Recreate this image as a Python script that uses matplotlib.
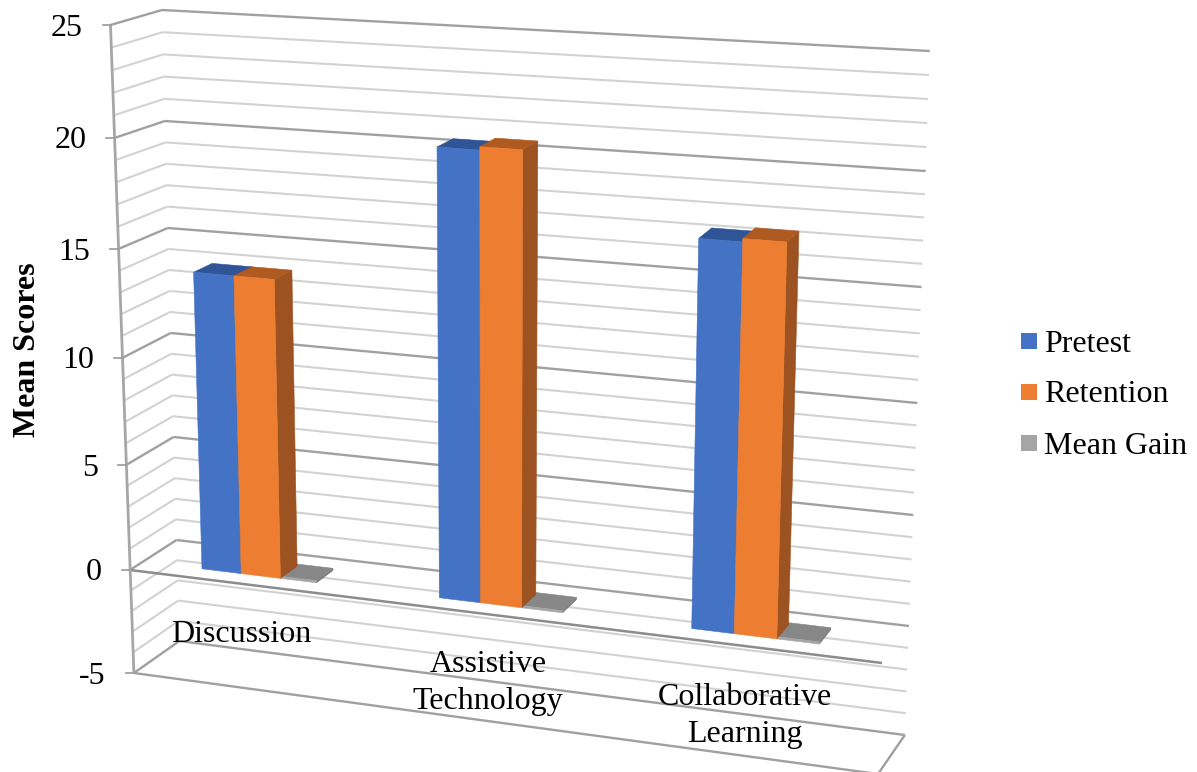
import numpy as np
import matplotlib
matplotlib.use('Agg')
import matplotlib.pyplot as plt
from matplotlib.patches import Polygon, Rectangle

plt.rcParams['font.family'] = ['Liberation Serif', 'DejaVu Serif']

# chart values
categories = ['Discussion', 'Assistive\nTechnology', 'Collaborative\nLearning']
series = ['Pretest', 'Retention', 'Mean Gain']
pretest = [13.9, 20.4, 17.3]
retention = [13.9, 20.55, 17.45]
mean_gain = [0.1, 0.1, 0.1]
y_ticks = [-5, 0, 5, 10, 15, 20, 25]

# box edges of the fake 3d chart, pixel position at each major value
edge_v = [-5, 0, 5, 10, 15, 20, 25]
front_left_y = [673, 570, 465, 358, 249, 138, 25]
back_left_y = [641, 540, 437, 333, 228, 121, 10]
back_right_y = [735, 626, 515, 403, 287, 171, 51]


def project(u, d, v):
    # u along the categories, d into the depth, v the value on the y axis
    fl_x = 130 - 0.78 * v
    bl_x = 176.5 - 0.58 * v
    fr_x = 882 + 0.8 * v
    br_x = 909 + 0.83 * v
    fl_y = np.interp(v, edge_v, front_left_y)
    bl_y = np.interp(v, edge_v, back_left_y)
    br_y = np.interp(v, edge_v, back_right_y)
    fr_y = fl_y + 93 - 1.6 * v
    left_x = fl_x + (bl_x - fl_x) * d
    right_x = fr_x + (br_x - fr_x) * d
    left_y = fl_y + (bl_y - fl_y) * d
    right_y = fr_y + (br_y - fr_y) * d
    return left_x + (right_x - left_x) * u, left_y + (right_y - left_y) * u


def line3d(ax, p0, p1, color, lw):
    a = project(*p0)
    b = project(*p1)
    ax.plot([a[0], b[0]], [a[1], b[1]], color=color, lw=lw, solid_capstyle='butt', zorder=1)


def face(ax, pts, color):
    xy = [project(*p) for p in pts]
    ax.add_patch(Polygon(xy, closed=True, facecolor=color, edgecolor=color, lw=0.4, zorder=3))


def bar3d(ax, u0, u1, d0, d1, v, front, top, side):
    face(ax, [(u1, d0, 0), (u1, d1, 0), (u1, d1, v), (u1, d0, v)], side)
    face(ax, [(u0, d0, v), (u0, d1, v), (u1, d1, v), (u1, d0, v)], top)
    face(ax, [(u0, d0, 0), (u1, d0, 0), (u1, d0, v), (u0, d0, v)], front)


fig = plt.figure(figsize=(11.97, 7.72), dpi=100)
ax = fig.add_axes([0, 0, 1, 1])
ax.set_xlim(0, 1197)
ax.set_ylim(772, 0)
ax.axis('off')

MINOR = '#d2d2d2'
MAJOR = '#a0a0a0'

# walls: one gridline per unit, darker on the major values
for v in range(-5, 26):
    is_major = v % 5 == 0
    col = MAJOR if is_major else MINOR
    lw = 1.7 if is_major else 1.5
    line3d(ax, (0, 0, v), (0, 1, v), col, lw)
    line3d(ax, (0, 1, v), (1, 1, v), col, lw)

# floor and the zero plane front edge
line3d(ax, (0, 0, -5), (1, 0, -5), MAJOR, 1.7)
line3d(ax, (1, 0, -5), (1, 1, -5), MAJOR, 1.7)
line3d(ax, (0, 0, 0), (1, 0, 0), '#8c8c8c', 1.8)

# y axis with its ticks and labels
line3d(ax, (0, 0, -5), (0, 0, 25), '#a6a6a6', 2.0)
for v in y_ticks:
    x, y = project(0, 0, v)
    ax.plot([x - 8, x], [y, y], color='#999999', lw=1.2, zorder=2)
    ax.text(x - 28, y + 3, str(v), ha='right', va='center', fontsize=23, color='black')

ax.text(28, 350, 'Mean Scores', rotation=90, ha='center', va='center',
        fontsize=23, fontweight='bold', color='black')

# bars, groups left to right
group_left = [0.079, 0.397, 0.735]
bar_w = [0.0525, 0.055, 0.057]
gain_w = [0.0485, 0.055, 0.057]
d0, d1 = 0.28, 0.67
for i in range(3):
    u = group_left[i]
    w = bar_w[i]
    bar3d(ax, u + 2 * w, u + 2 * w + gain_w[i], d0, d1, mean_gain[i], '#a5a5a5', '#878787', '#7b7b7b')
    bar3d(ax, u, u + w, d0, d1, pretest[i], '#4472c4', '#2f5597', '#2f5597')
    bar3d(ax, u + w, u + 2 * w, d0, d1, retention[i], '#ed7d31', '#ae5a21', '#9c5221')

# category labels sit over the floor
label_pos = [(241, 634), (488, 683), (745, 716)]
for name, (x, y) in zip(categories, label_pos):
    ax.text(x, y, name, ha='center', va='center', fontsize=23, color='black',
            linespacing=1.33, zorder=5)

# legend
legend_colors = ['#4472c4', '#ed7d31', '#a5a5a5']
legend_y = [341, 392, 443]
for name, col, y in zip(series, legend_colors, legend_y):
    ax.add_patch(Rectangle((1021, y - 8), 16, 16, facecolor=col, edgecolor='none'))
    ax.text(1044, y + 3, name, ha='left', va='center', fontsize=23, color='black')

fig.savefig('out.png', dpi=100)
